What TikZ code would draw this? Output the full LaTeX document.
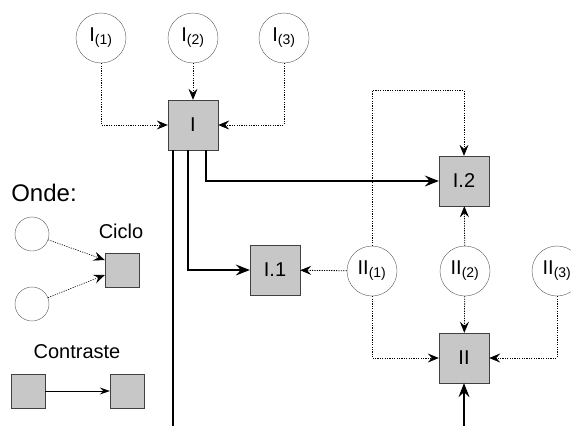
\documentclass[tikz,border=0pt]{standalone}
\usepackage{fontspec}
\setmainfont{Liberation Sans}
\usetikzlibrary{arrows.meta}

\begin{document}
\begin{tikzpicture}[
 x=1pt,y=-1pt,
 every node/.style={font=\fontsize{20}{24}\selectfont},
 cyclebox/.style={draw=black!75,fill=black!22,minimum size=50pt,inner sep=0pt},
 cyclesmall/.style={cyclebox,minimum size=34pt},
 phase/.style={circle,draw=black!65,fill=white,minimum size=50pt,inner sep=0pt},
 phasesmall/.style={phase,minimum size=34pt},
 legend/.style={font=\fontsize{20}{24}\selectfont},
 arr/.style={-{Stealth[length=14pt,width=11pt,inset=5pt]},line width=1.1pt},
 thinarr/.style={-{Stealth[length=10pt,width=7pt,inset=3.5pt]},line width=0.6pt},
 dotarr/.style={-{Stealth[length=11pt,width=9pt,inset=4pt]},line width=0.8pt,dash pattern=on 1.2pt off 1.2pt}
]
\useasboundingbox (0,0) rectangle (571,426);
\clip (0,0) rectangle (571,426);
% cycle I and its phases
\node[phase] (i1) at (101,38) {I\textsubscript{(1)}};
\node[phase] (i2) at (193,38) {I\textsubscript{(2)}};
\node[phase] (i3) at (284,38) {I\textsubscript{(3)}};
\node[cyclebox] (cI) at (193,125) {I};
\node[cyclebox] (cI1) at (275,270) {I.1};
\node[cyclebox] (cI2) at (464,181) {I.2};
% cycle II and its phases
\node[phase] (ii1) at (372,271) {II\textsubscript{(1)}};
\node[phase] (ii2) at (465,271) {II\textsubscript{(2)}};
\node[phase] (ii3) at (557,271) {II\textsubscript{(3)}};
\node[cyclebox] (cII) at (464,358) {II};
\coordinate (down) at (173,426);
\coordinate (up) at (464,426);
\draw[dotarr] (i1.south) |- (cI.west);
\draw[dotarr] (i2) -- (cI);
\draw[dotarr] (i3.south) |- (cI.east);
\draw[arr] ([xshift=13pt]cI.south) |- (cI2.west);
\draw[arr] ([xshift=-5pt]cI.south) |- (cI1.west);
\draw[line width=1.1pt] ([xshift=-20pt]cI.south) -- (down);
\draw[dotarr] (ii1.north) -- ++(0,-155) -| (cI2.north);
\draw[dotarr] (ii1) -- (cI1);
\draw[dotarr] (ii1.south) |- (cII.west);
\draw[dotarr] (ii2) -- (cI2);
\draw[dotarr] (ii2) -- (cII);
\draw[dotarr] (ii3.south) |- (cII.east);
\draw[arr] (up) -- (cII);
% legend
\node[font=\fontsize{24}{28}\selectfont] (onde) at (44,193) {Onde:};
\node[phasesmall] (lp1) at (32,234) {};
\node[phasesmall] (lp2) at (32,304) {};
\node[cyclesmall] (lc) at (122,270) {};
\node[legend] (ciclo) at (121,231) {Ciclo};
\draw[dotarr,line width=0.6pt] (lp1) -- ([yshift=10pt]lc.west);
\draw[dotarr,line width=0.6pt] (lp2) -- ([yshift=-5pt]lc.west);
\node[legend] (contraste) at (77,352) {Contraste};
\node[cyclesmall] (la) at (28,391) {};
\node[cyclesmall] (lb) at (127,391) {};
\draw[thinarr] (la) -- (lb);
\end{tikzpicture}
\end{document}
